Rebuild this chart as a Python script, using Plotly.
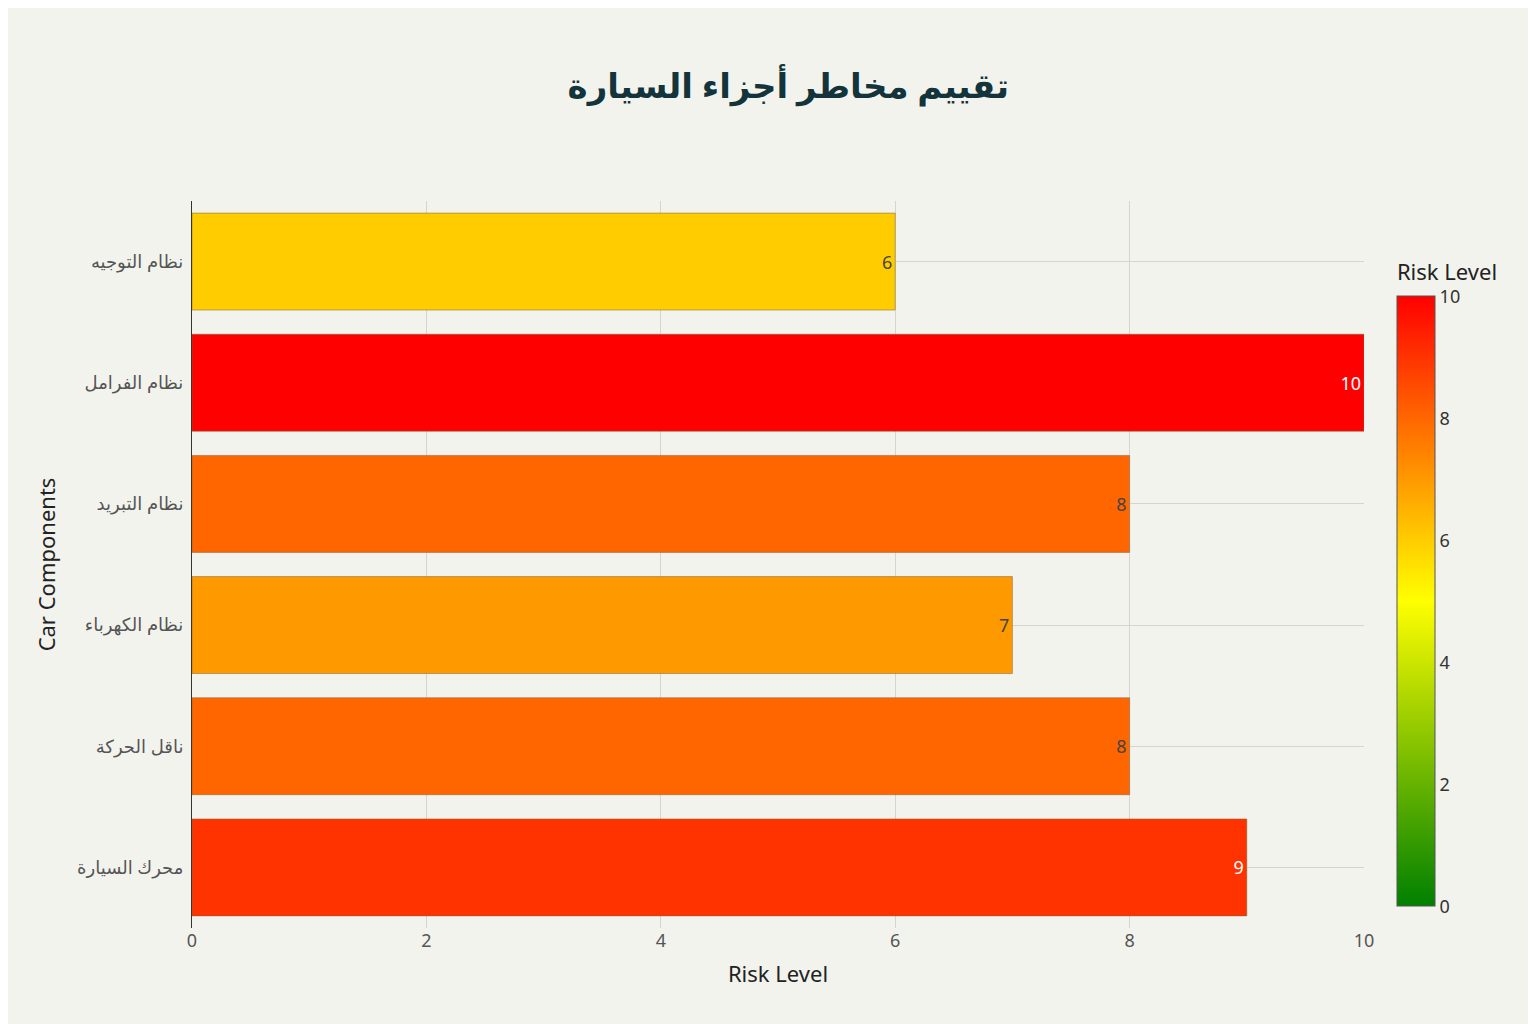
import plotly.graph_objects as go

components = ["محرك السيارة", "ناقل الحركة", "نظام الكهرباء", "نظام التبريد", "نظام الفرامل", "نظام التوجيه"]
risk = [9, 8, 7, 8, 10, 6]
x_ticks = [0, 2, 4, 6, 8, 10]

BG = "#F3F3EE"
FONT = "Noto Sans, DejaVu Sans, sans-serif"

fig = go.Figure(go.Bar(
    y=components, x=risk, orientation="h",
    text=risk, textposition="inside", insidetextanchor="end",
    textfont=dict(size=18),
    marker=dict(
        color=risk, cmin=0, cmax=10,
        colorscale=[[0, "#008000"], [0.5, "#FFFF00"], [1, "#FF0000"]],
        line=dict(color="rgba(120,100,60,0.5)", width=1),
        colorbar=dict(
            title=dict(text="Risk Level", side="top", font=dict(size=22, color="#222")),
            tickvals=x_ticks, tickfont=dict(size=18, color="#333"),
            thickness=38, len=0.915, y=0.016, yanchor="bottom",
            outlinewidth=1, outlinecolor="#555",
        ),
    ),
    width=0.8,
    hovertemplate="%{y}: %{x}<extra></extra>",
))

fig.update_layout(
    title=dict(text="<b>تقييم مخاطر أجزاء السيارة</b>", x=0.508, y=0.935,
               font=dict(size=34, color="#13343B")),
    paper_bgcolor=BG, plot_bgcolor=BG,
    font=dict(family=FONT, color="#333"),
    width=1536, height=1024,
    margin=dict(l=184, r=180, t=193, b=104),
    showlegend=False,
)
fig.update_xaxes(range=[0, 10], tickvals=x_ticks, gridcolor="#D5D5D0",
                 zeroline=False, tickfont=dict(size=18, color="#555"),
                 title=dict(text="Risk Level", font=dict(size=22, color="#222")))
fig.update_yaxes(gridcolor="#D5D5D0", showline=True, linecolor="#333",
                 tickfont=dict(size=18, color="#555"), ticks="outside", ticklen=4, tickcolor=BG,
                 title=dict(text="Car Components", font=dict(size=22, color="#222")))

fig.write_html("out.html")
